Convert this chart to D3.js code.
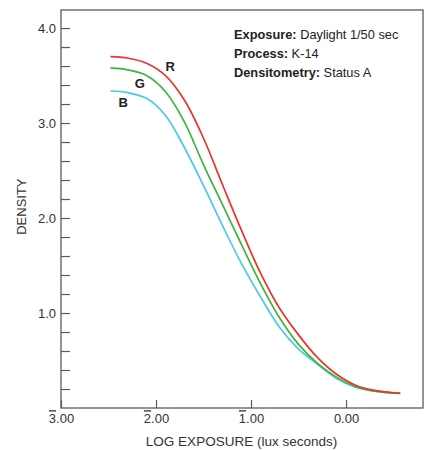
<!DOCTYPE html>
<html>
<head>
<meta charset="utf-8">
<script src="https://cdn.jsdelivr.net/npm/d3@7"></script>
<style>
  body { margin: 0; background: #fff; }
  svg { font-family: "Liberation Sans", Arial, sans-serif; }
</style>
</head>
<body>
<svg width="430" height="450"></svg>
<script>
// log exposure values (x) and density readings for each layer
var logExposure = [-2.48, -2.3, -2.1, -1.9, -1.7, -1.5, -1.3, -1.1, -0.9, -0.7, -0.5, -0.3, -0.1, 0.1, 0.3, 0.57];
var redDensity   = [3.70, 3.685, 3.63, 3.50, 3.24, 2.84, 2.35, 1.87, 1.42, 1.05, 0.77, 0.53, 0.355, 0.24, 0.185, 0.155];
var greenDensity = [3.58, 3.56, 3.50, 3.33, 3.01, 2.56, 2.14, 1.72, 1.31, 0.95, 0.67, 0.47, 0.325, 0.225, 0.178, 0.155];
var blueDensity  = [3.34, 3.32, 3.26, 3.08, 2.74, 2.34, 1.92, 1.52, 1.17, 0.85, 0.62, 0.46, 0.31, 0.22, 0.178, 0.155];

var xTicks = [-3, -2, -1, 0];
var yMajor = [1, 2, 3, 4];
var yMinor = [0.2, 0.4, 0.6, 0.8, 1, 1.2, 1.4, 1.6, 1.8, 2, 2.2, 2.4, 2.6, 2.8, 3, 3.2, 3.4, 3.6, 3.8, 4];

var infoLines = [
    {bold: "Exposure:", rest: " Daylight 1/50 sec"},
    {bold: "Process:", rest: " K-14"},
    {bold: "Densitometry:", rest: " Status A"}
];

// curve labels, placed in data units
var curveLabels = [
    {text: "R", x: -1.85, y: 3.55},
    {text: "G", x: -2.17, y: 3.37},
    {text: "B", x: -2.345, y: 3.17}
];

var svg = d3.select("svg"),
    margin = {top: 10, right: 7, bottom: 42, left: 61},
    width = +svg.attr("width") - margin.left - margin.right,
    height = +svg.attr("height") - margin.top - margin.bottom;

var axisColor = "#5e5666";

var x = d3.scaleLinear().domain([-3, 0.81]).range([0, width]),
    y = d3.scaleLinear().domain([0, 4.19]).range([height, 0]);

var g = svg.append("g")
    .attr("transform", "translate(" + margin.left + "," + margin.top + ")");

// frame
g.append("rect")
    .attr("x", 0).attr("y", 0)
    .attr("width", width).attr("height", height)
    .attr("fill", "none")
    .attr("stroke", axisColor)
    .attr("stroke-width", 1.3);

// y axis: minor + major ticks pointing inward
var yAxis = g.append("g")
    .call(d3.axisLeft(y).tickValues(yMinor).tickSizeInner(-9).tickSizeOuter(0).tickFormat(function(d) {
        return yMajor.indexOf(Math.round(d * 10) / 10) >= 0 ? d3.format(".1f")(d) : "";
    }));
yAxis.select(".domain").remove();
yAxis.selectAll("line").attr("stroke", axisColor).attr("stroke-width", 1.2);
yAxis.selectAll("text")
    .attr("x", -5)
    .style("font-size", "13px")
    .attr("fill", "#333");

// x axis
var xAxis = g.append("g")
    .attr("transform", "translate(0," + height + ")")
    .call(d3.axisBottom(x).tickValues(xTicks).tickSizeInner(-8).tickSizeOuter(0));
xAxis.select(".domain").remove();
xAxis.selectAll("line").attr("stroke", axisColor).attr("stroke-width", 1.2);
xAxis.selectAll("text").each(function(d) {
    var t = d3.select(this).text("")
        .attr("y", 6)
        .style("font-size", "13px")
        .attr("fill", "#333");
    if (d < 0) {
        t.append("tspan").style("text-decoration", "overline").text(Math.abs(d));
        t.append("tspan").text(".00");
    } else {
        t.append("tspan").text("0.00");
    }
});

// axis titles
g.append("text")
    .attr("x", x(-1.1))
    .attr("y", height + 38)
    .attr("text-anchor", "middle")
    .style("font-size", "13.5px")
    .attr("fill", "#333")
    .text("LOG EXPOSURE (lux seconds)");

g.append("text")
    .attr("transform", "rotate(-90)")
    .attr("x", -(y(2.12)))
    .attr("y", -35)
    .attr("text-anchor", "middle")
    .style("font-size", "13px")
    .attr("fill", "#333")
    .text("DENSITY");

// curves
var line = d3.line()
    .x(function(d) { return x(d[0]); })
    .y(function(d) { return y(d[1]); })
    .curve(d3.curveCatmullRom.alpha(0.5));

var series = [
    {values: blueDensity, color: "#4cc8ea"},
    {values: greenDensity, color: "#3fb43a"},
    {values: redDensity, color: "#ec3328"}
];

series.forEach(function(s) {
    g.append("path")
        .datum(logExposure.map(function(v, i) { return [v, s.values[i]]; }))
        .attr("fill", "none")
        .attr("stroke", s.color)
        .attr("stroke-width", 1.7)
        .attr("d", line);
});

g.selectAll(".curve-label")
    .data(curveLabels)
    .enter().append("text")
    .attr("class", "curve-label")
    .attr("x", function(d) { return x(d.x); })
    .attr("y", function(d) { return y(d.y); })
    .attr("text-anchor", "middle")
    .style("font-size", "13px")
    .style("font-weight", "bold")
    .attr("fill", "#222")
    .text(function(d) { return d.text; });

// info block
var info = g.append("text")
    .attr("x", 173)
    .attr("y", 29)
    .style("font-size", "12.8px")
    .attr("fill", "#222");

infoLines.forEach(function(l, i) {
    var row = info.append("tspan").attr("x", 173).attr("dy", i === 0 ? 0 : 19);
    row.append("tspan").style("font-weight", "bold").text(l.bold);
    info.append("tspan").text(l.rest);
});
</script>
</body>
</html>
